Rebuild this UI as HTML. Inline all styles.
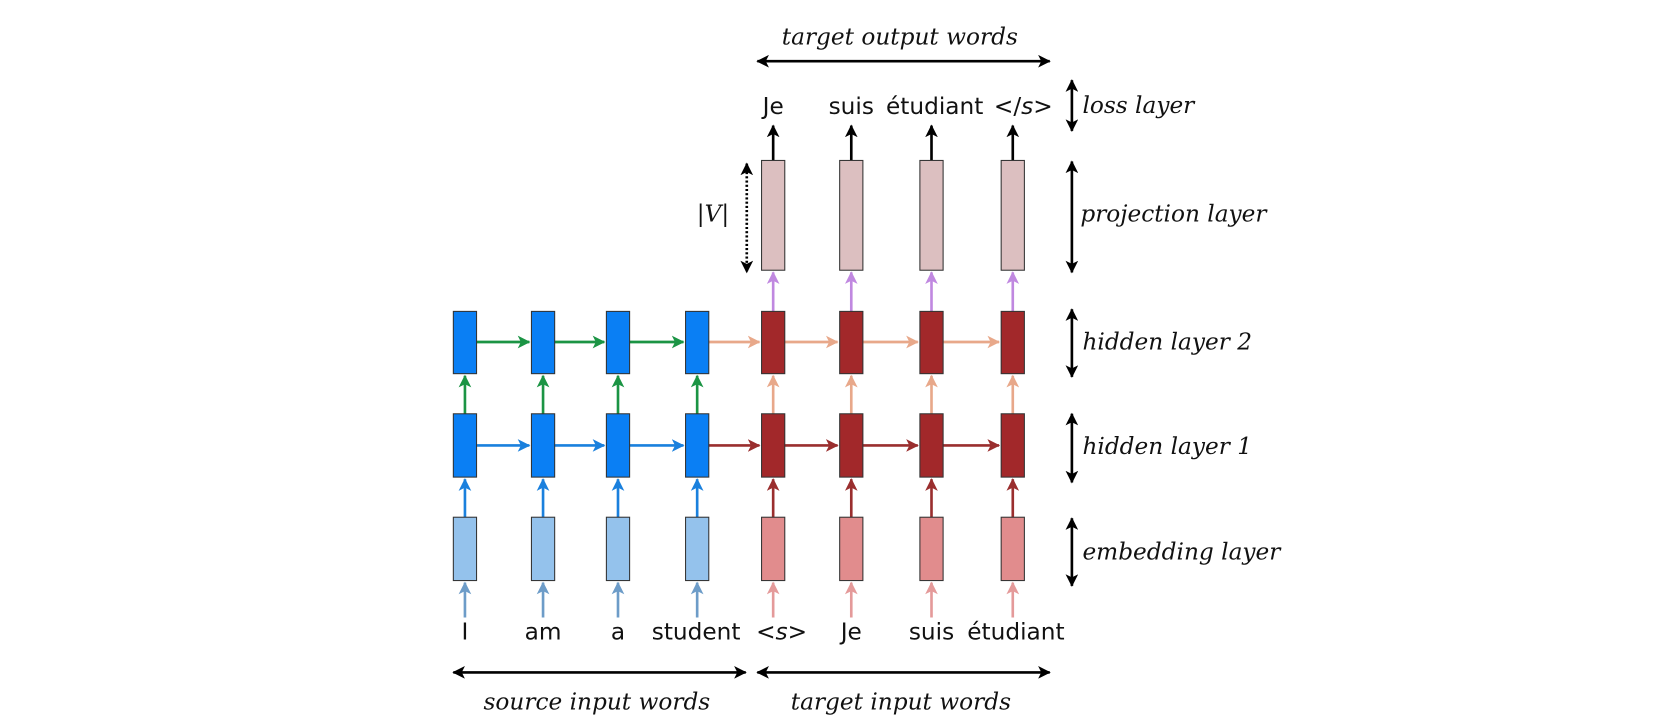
<!DOCTYPE html>
<html><head><meta charset="utf-8"><style>
html,body{margin:0;padding:0;background:#fff;}
svg{display:block}
.sans{font-family:"DejaVu Sans","Liberation Sans",sans-serif;font-size:22px;fill:#111}
.ser{font-family:"DejaVu Serif","Liberation Serif",serif;font-style:italic;font-size:22px;fill:#111}
</style></head><body>
<svg width="1654" height="722" viewBox="0 0 1566 684" xmlns="http://www.w3.org/2000/svg">
<defs>
<marker id="ak" markerWidth="12" markerHeight="12" refX="11" refY="6" orient="auto" markerUnits="userSpaceOnUse"><path d="M0,0 L12,6 L0,12 L3,6 z" fill="#000"/></marker>
<marker id="ab" markerWidth="12" markerHeight="12" refX="11" refY="6" orient="auto" markerUnits="userSpaceOnUse"><path d="M0,0 L12,6 L0,12 L3,6 z" fill="#1a80dd"/></marker>
<marker id="ag" markerWidth="12" markerHeight="12" refX="11" refY="6" orient="auto" markerUnits="userSpaceOnUse"><path d="M0,0 L12,6 L0,12 L3,6 z" fill="#1b9444"/></marker>
<marker id="ar" markerWidth="12" markerHeight="12" refX="11" refY="6" orient="auto" markerUnits="userSpaceOnUse"><path d="M0,0 L12,6 L0,12 L3,6 z" fill="#9a2e2e"/></marker>
<marker id="ap" markerWidth="12" markerHeight="12" refX="11" refY="6" orient="auto" markerUnits="userSpaceOnUse"><path d="M0,0 L12,6 L0,12 L3,6 z" fill="#e8a88a"/></marker>
<marker id="av" markerWidth="12" markerHeight="12" refX="11" refY="6" orient="auto" markerUnits="userSpaceOnUse"><path d="M0,0 L12,6 L0,12 L3,6 z" fill="#c088e0"/></marker>
<marker id="asb" markerWidth="12" markerHeight="12" refX="11" refY="6" orient="auto" markerUnits="userSpaceOnUse"><path d="M0,0 L12,6 L0,12 L3,6 z" fill="#6d9cc8"/></marker>
<marker id="asr" markerWidth="12" markerHeight="12" refX="11" refY="6" orient="auto" markerUnits="userSpaceOnUse"><path d="M0,0 L12,6 L0,12 L3,6 z" fill="#e49a9a"/></marker>
<marker id="ks" markerWidth="12" markerHeight="12" refX="1" refY="6" orient="auto" markerUnits="userSpaceOnUse"><path d="M12,0 L0,6 L12,12 L9,6 z" fill="#000"/></marker>
</defs>
<g stroke-width="2.5" fill="none">
<g stroke="#6d9cc8"><line x1="440" y1="585" x2="440" y2="552" marker-end="url(#asb)"/><line x1="514" y1="585" x2="514" y2="552" marker-end="url(#asb)"/><line x1="585" y1="585" x2="585" y2="552" marker-end="url(#asb)"/><line x1="660" y1="585" x2="660" y2="552" marker-end="url(#asb)"/></g>
<g stroke="#e49a9a"><line x1="732" y1="585" x2="732" y2="552" marker-end="url(#asr)"/><line x1="806" y1="585" x2="806" y2="552" marker-end="url(#asr)"/><line x1="882" y1="585" x2="882" y2="552" marker-end="url(#asr)"/><line x1="959" y1="585" x2="959" y2="552" marker-end="url(#asr)"/></g>
<g stroke="#1a80dd"><line x1="440" y1="490" x2="440" y2="454" marker-end="url(#ab)"/><line x1="514" y1="490" x2="514" y2="454" marker-end="url(#ab)"/><line x1="585" y1="490" x2="585" y2="454" marker-end="url(#ab)"/><line x1="660" y1="490" x2="660" y2="454" marker-end="url(#ab)"/>
<line x1="451" y1="422" x2="501" y2="422" marker-end="url(#ab)"/><line x1="525" y1="422" x2="572" y2="422" marker-end="url(#ab)"/><line x1="596" y1="422" x2="647" y2="422" marker-end="url(#ab)"/></g>
<g stroke="#9a2e2e"><line x1="732" y1="490" x2="732" y2="454" marker-end="url(#ar)"/><line x1="806" y1="490" x2="806" y2="454" marker-end="url(#ar)"/><line x1="882" y1="490" x2="882" y2="454" marker-end="url(#ar)"/><line x1="959" y1="490" x2="959" y2="454" marker-end="url(#ar)"/>
<line x1="671" y1="422" x2="719" y2="422" marker-end="url(#ar)"/><line x1="743" y1="422" x2="793" y2="422" marker-end="url(#ar)"/><line x1="817" y1="422" x2="869" y2="422" marker-end="url(#ar)"/><line x1="893" y1="422" x2="946" y2="422" marker-end="url(#ar)"/></g>
<g stroke="#1b9444"><line x1="440" y1="392" x2="440" y2="356" marker-end="url(#ag)"/><line x1="514" y1="392" x2="514" y2="356" marker-end="url(#ag)"/><line x1="585" y1="392" x2="585" y2="356" marker-end="url(#ag)"/><line x1="660" y1="392" x2="660" y2="356" marker-end="url(#ag)"/>
<line x1="451" y1="324" x2="501" y2="324" marker-end="url(#ag)"/><line x1="525" y1="324" x2="572" y2="324" marker-end="url(#ag)"/><line x1="596" y1="324" x2="647" y2="324" marker-end="url(#ag)"/></g>
<g stroke="#e8a88a"><line x1="732" y1="392" x2="732" y2="356" marker-end="url(#ap)"/><line x1="806" y1="392" x2="806" y2="356" marker-end="url(#ap)"/><line x1="882" y1="392" x2="882" y2="356" marker-end="url(#ap)"/><line x1="959" y1="392" x2="959" y2="356" marker-end="url(#ap)"/>
<line x1="671" y1="324" x2="719" y2="324" marker-end="url(#ap)"/><line x1="743" y1="324" x2="793" y2="324" marker-end="url(#ap)"/><line x1="817" y1="324" x2="869" y2="324" marker-end="url(#ap)"/><line x1="893" y1="324" x2="946" y2="324" marker-end="url(#ap)"/></g>
<g stroke="#c088e0"><line x1="732" y1="295" x2="732" y2="258" marker-end="url(#av)"/><line x1="806" y1="295" x2="806" y2="258" marker-end="url(#av)"/><line x1="882" y1="295" x2="882" y2="258" marker-end="url(#av)"/><line x1="959" y1="295" x2="959" y2="258" marker-end="url(#av)"/></g>
<g stroke="#000"><line x1="732" y1="152" x2="732" y2="119" marker-end="url(#ak)"/><line x1="806" y1="152" x2="806" y2="119" marker-end="url(#ak)"/><line x1="882" y1="152" x2="882" y2="119" marker-end="url(#ak)"/><line x1="959" y1="152" x2="959" y2="119" marker-end="url(#ak)"/>
<line x1="429" y1="637" x2="706" y2="637" marker-start="url(#ks)" marker-end="url(#ak)"/>
<line x1="717" y1="637" x2="994" y2="637" marker-start="url(#ks)" marker-end="url(#ak)"/>
<line x1="717" y1="58" x2="994" y2="58" marker-start="url(#ks)" marker-end="url(#ak)"/>
<line x1="1015" y1="76" x2="1015" y2="124" marker-start="url(#ks)" marker-end="url(#ak)"/>
<line x1="1015" y1="153" x2="1015" y2="258" marker-start="url(#ks)" marker-end="url(#ak)"/>
<line x1="1015" y1="293" x2="1015" y2="357" marker-start="url(#ks)" marker-end="url(#ak)"/>
<line x1="1015" y1="392" x2="1015" y2="457" marker-start="url(#ks)" marker-end="url(#ak)"/>
<line x1="1015" y1="491" x2="1015" y2="555" marker-start="url(#ks)" marker-end="url(#ak)"/>
<line x1="707" y1="155" x2="707" y2="258" stroke-dasharray="2,2" marker-start="url(#ks)" marker-end="url(#ak)"/>
</g>
</g>
<g stroke="#333" stroke-width="1">
<g fill="#94c2ec"><rect x="429" y="490" width="22" height="60"/><rect x="503" y="490" width="22" height="60"/><rect x="574" y="490" width="22" height="60"/><rect x="649" y="490" width="22" height="60"/></g>
<g fill="#0a7ff4"><rect x="429" y="392" width="22" height="60"/><rect x="503" y="392" width="22" height="60"/><rect x="574" y="392" width="22" height="60"/><rect x="649" y="392" width="22" height="60"/>
<rect x="429" y="295" width="22" height="59"/><rect x="503" y="295" width="22" height="59"/><rect x="574" y="295" width="22" height="59"/><rect x="649" y="295" width="22" height="59"/></g>
<g fill="#e18c8d"><rect x="721" y="490" width="22" height="60"/><rect x="795" y="490" width="22" height="60"/><rect x="871" y="490" width="22" height="60"/><rect x="948" y="490" width="22" height="60"/></g>
<g fill="#a2282a"><rect x="721" y="392" width="22" height="60"/><rect x="795" y="392" width="22" height="60"/><rect x="871" y="392" width="22" height="60"/><rect x="948" y="392" width="22" height="60"/>
<rect x="721" y="295" width="22" height="59"/><rect x="795" y="295" width="22" height="59"/><rect x="871" y="295" width="22" height="59"/><rect x="948" y="295" width="22" height="59"/></g>
<g fill="#dcbfc0"><rect x="721" y="152" width="22" height="104"/><rect x="795" y="152" width="22" height="104"/><rect x="871" y="152" width="22" height="104"/><rect x="948" y="152" width="22" height="104"/></g>
</g>
<g class="sans" text-anchor="middle">
<text x="440" y="606">I</text><text x="514" y="606">am</text><text x="585" y="606">a</text><text x="659" y="606">student</text>
<text x="740" y="606">&lt;<tspan font-style="italic">s</tspan>&gt;</text><text x="806" y="606">Je</text><text x="882" y="606">suis</text><text x="962" y="606">étudiant</text>
<text x="732" y="108">Je</text><text x="806" y="108">suis</text><text x="885" y="108">étudiant</text><text x="969" y="108">&lt;/<tspan font-style="italic">s</tspan>&gt;</text>
</g>
<g class="ser">
<text x="565" y="672" text-anchor="middle">source input words</text>
<text x="853" y="672" text-anchor="middle">target input words</text>
<text x="852" y="42" text-anchor="middle">target output words</text>
<text x="1025" y="107">loss layer</text>
<text x="1023" y="210">projection layer</text>
<text x="1025" y="331">hidden layer 2</text>
<text x="1025" y="430">hidden layer 1</text>
<text x="1025" y="530">embedding layer</text>
<text x="675" y="210" text-anchor="middle">|V|</text>
</g>
</svg>
</body></html>
